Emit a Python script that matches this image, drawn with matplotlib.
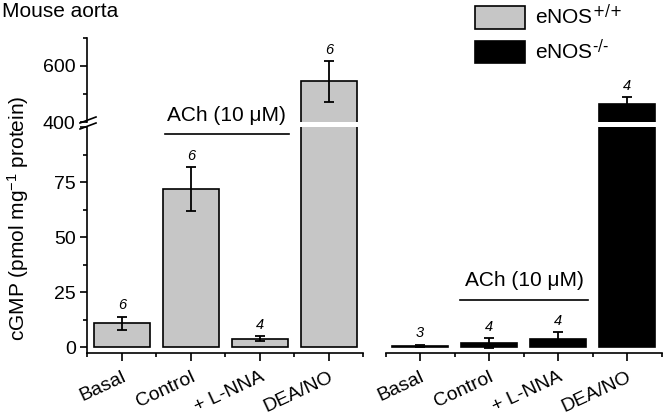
import matplotlib
matplotlib.use('Agg')
import matplotlib.pyplot as plt
from matplotlib.patches import Patch
from matplotlib.lines import Line2D
import numpy as np

plt.rcParams['font.family'] = ['Liberation Sans', 'DejaVu Sans']
plt.rcParams['mathtext.default'] = 'regular'

categories = ['Basal', 'Control', '+ L-NNA', 'DEA/NO']
wt_mean = [11, 72, 4, 545]
wt_err = [3, 10, 1, 72]
wt_n = ['6', '6', '4', '6']
ko_mean = [0.8, 2, 4, 465]
ko_err = [0.5, 2.3, 3, 25]
ko_n = ['3', '4', '4', '4']

gray = '#c6c6c6'
fs = 15

W, H = 670, 420
fig = plt.figure(figsize=(W / 100, H / 100), dpi=100)


def fx(px):
    return px / W


def fy(py):
    return 1 - py / H


# axes: [left, bottom, width, height]
axL_lo = fig.add_axes([fx(87.5), fy(353), fx(276), (353 - 127) / H])
axL_hi = fig.add_axes([fx(87.5), fy(122), fx(276), (122 - 38) / H])
axR_lo = fig.add_axes([fx(385.5), fy(353), fx(276), (353 - 127) / H])
axR_hi = fig.add_axes([fx(385.5), fy(122), fx(276), (122 - 38) / H])
for ax in (axL_hi, axR_hi):
    ax.patch.set_visible(False)

x = np.arange(1, len(categories) + 1)
bw = 0.82


def draw(ax_lo, ax_hi, means, errs, ns, color):
    for ax in (ax_lo, ax_hi):
        ax.bar(x, means, bw, color=color, edgecolor='black', linewidth=1.2)
        ax.errorbar(x, means, yerr=errs, fmt='none', ecolor='black',
                    elinewidth=1.3, capsize=3.5, capthick=1.3)
        ax.set_xlim(0.5, 4.5)
    ax_lo.set_ylim(-2.5, 100)
    ax_hi.set_ylim(400, 700)
    for i in range(len(x)):
        top = means[i] + errs[i]
        ax = ax_hi if top > 100 else ax_lo
        ax.annotate(ns[i], (x[i], top), xytext=(0, 3), textcoords='offset points',
                    ha='center', va='bottom', fontsize=10.5, style='italic')
    for s in ('top', 'right'):
        ax_lo.spines[s].set_visible(False)
        ax_hi.spines[s].set_visible(False)
    ax_hi.spines['bottom'].set_visible(False)
    ax_hi.set_xticks([])
    ax_lo.set_xticks(x)
    ax_lo.set_xticks(np.arange(0.5, 4.6, 1), minor=True)
    ax_lo.set_xticklabels(categories, rotation=25, ha='right', va='top',
                          rotation_mode='anchor', fontsize=14)
    ax_lo.tick_params(axis='x', which='major', length=6, width=1.2, direction='out', pad=5)
    ax_lo.tick_params(axis='x', which='minor', length=3, width=1.2, direction='out')
    for ax in (ax_lo, ax_hi):
        for s in ax.spines.values():
            s.set_linewidth(1.2)


draw(axL_lo, axL_hi, wt_mean, wt_err, wt_n, gray)
draw(axR_lo, axR_hi, ko_mean, ko_err, ko_n, 'black')

# left y axis ticks
axL_lo.set_yticks([0, 25, 50, 75, 100])
axL_lo.set_yticklabels(['0', '25', '50', '75', ''])
axL_lo.set_yticks(np.arange(12.5, 100, 25), minor=True)
axL_hi.set_yticks([400, 600])
axL_hi.set_yticks([500, 700], minor=True)
for ax in (axL_lo, axL_hi):
    ax.tick_params(axis='y', which='major', length=5, width=1.2, labelsize=14)
    ax.tick_params(axis='y', which='minor', length=3, width=1.2)

# right panel has no y axis
for ax in (axR_lo, axR_hi):
    ax.spines['left'].set_visible(False)
    ax.set_yticks([])
    ax.set_yticks([], minor=True)

# break marks on left spine
for yy in (120, 126):
    fig.add_artist(Line2D([fx(80), fx(96)], [fy(yy + 3), fy(yy - 3)],
                          color='black', linewidth=1.2))

# ACh brackets
axL_lo.plot([1.62, 3.42], [97, 97], color='black', linewidth=1.2, clip_on=False)
axL_lo.text(2.52, 101, 'ACh (10 \u03bcM)', ha='center', va='bottom', fontsize=fs)
axR_lo.plot([1.58, 3.44], [21.4, 21.4], color='black', linewidth=1.2, clip_on=False)
axR_lo.text(2.52, 26, 'ACh (10 \u03bcM)', ha='center', va='bottom', fontsize=fs)

fig.text(fx(2), fy(17), 'Mouse aorta', fontsize=fs, ha='left', va='baseline')
fig.text(fx(18), fy(218), 'cGMP (pmol mg$^{-1}$ protein)', rotation=90,
         ha='center', va='center', fontsize=fs)

handles = [Patch(facecolor=gray, edgecolor='black', linewidth=1.2),
           Patch(facecolor='black', edgecolor='black', linewidth=1.2)]
fig.legend(handles, [r'eNOS$^{\text{+/+}}$', r'eNOS$^{\text{-/-}}$'], loc='upper left',
           bbox_to_anchor=(fx(475), fy(4)), frameon=False, fontsize=fs,
           handlelength=2.4, handleheight=1.25, handletextpad=0.5,
           labelspacing=0.5, borderpad=0, borderaxespad=0)

fig.savefig('out.png', dpi=100)
